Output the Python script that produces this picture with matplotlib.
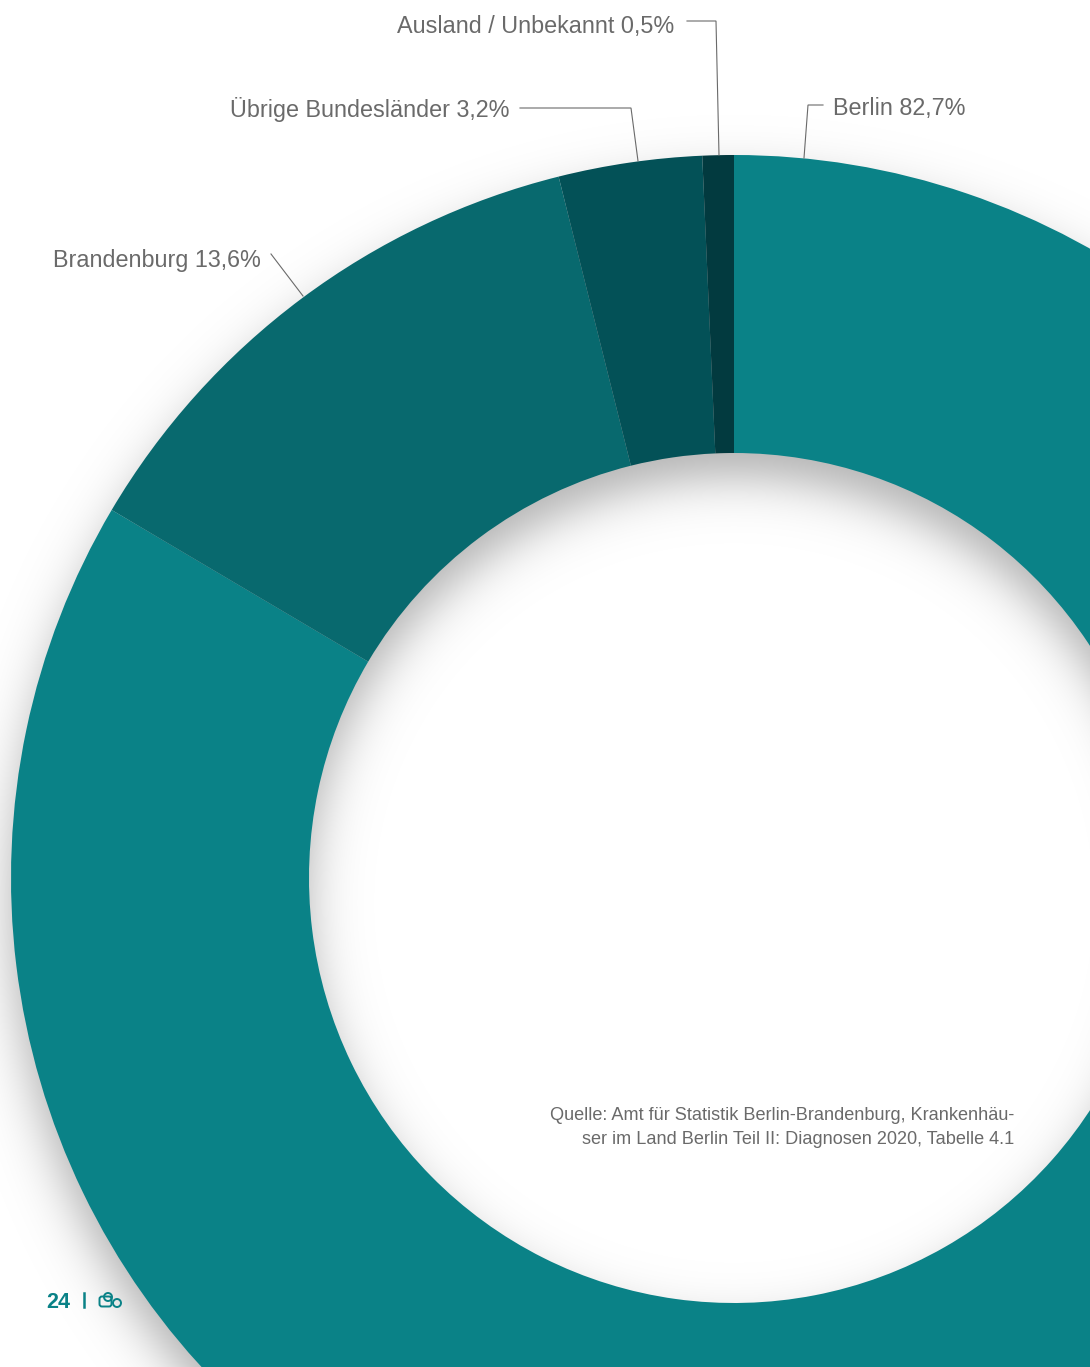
# donut chart: where the hospital patients come from
import numpy as np
import matplotlib
matplotlib.use("Agg")
import matplotlib.pyplot as plt
from matplotlib.patches import Circle, FancyBboxPatch

W, H = 1090, 1367

# shares as printed in the labels
regions = ["Berlin", "Brandenburg", "Übrige Bundesländer", "Ausland / Unbekannt"]
printed = ["82,7%", "13,6%", "3,2%", "0,5%"]
# shares as the wedges are actually drawn in the picture (they differ a bit from the labels)
drawn_shares = [83.5, 12.6, 3.2, 0.7]
colors = ["#0a8287", "#08696e", "#035157", "#023a3f"]

cx, cy = 734, 878
r_outer, r_inner = 723, 425

# leader lines, label end first
leaders = [
    [(823, 105), (808, 105), (804, 158)],
    [(271, 254), (303, 296)],
    [(520, 108), (631, 108), (638, 161)],
    [(687, 21), (716, 21), (719, 155)],
]
label_pos = [(833, 108, "left"), (261, 260, "right"), (509, 110, "right"), (674, 26, "right")]

plt.rcParams["font.family"] = ["Liberation Sans", "DejaVu Sans"]
grey = "#6a6a6a"
teal = "#0a8287"

fig = plt.figure(figsize=(W / 100, H / 100), dpi=100)
ax = fig.add_axes([0, 0, 1, 1])

# soft shadow of the ring, shifted down
yy, xx = np.mgrid[0:H, 0:W] + 0.5
rr = np.hypot(xx - cx, yy - (cy + 25))
sigma = 15.0
cover = 1 / (1 + np.exp((rr - r_outer) / sigma)) * 1 / (1 + np.exp((r_inner - rr) / sigma))
shadow = np.zeros((H, W, 4))
shadow[..., 3] = 0.31 * cover
ax.imshow(shadow, extent=(0, W, H, 0), zorder=1, interpolation="nearest")

# y axis runs downwards so ccw here is clockwise on the page
ax.pie(drawn_shares, colors=colors, startangle=-90, counterclock=True,
       radius=r_outer, center=(cx, cy),
       wedgeprops=dict(width=r_outer - r_inner, linewidth=0, zorder=2))

for line in leaders:
    xs, ys = zip(*line)
    ax.plot(xs, ys, color=grey, lw=0.8, zorder=3, solid_joinstyle="miter")

for name, val, (x, y, ha) in zip(regions, printed, label_pos):
    ax.text(x, y, name + " " + val, ha=ha, va="center", fontsize=16.8, color=grey, zorder=4)

ax.text(1014, 1116, "Quelle: Amt für Statistik Berlin-Brandenburg, Krankenhäu-",
        ha="right", va="center", fontsize=13.03, color=grey, zorder=4)
ax.text(1014, 1140, "ser im Land Berlin Teil II: Diagnosen 2020, Tabelle 4.1",
        ha="right", va="center", fontsize=13.03, color=grey, zorder=4)

# page number and little logo
ax.text(46, 1302, "24", ha="left", va="center", fontsize=15.5, fontweight="bold", color=teal, zorder=5)
ax.plot([84, 84], [1293, 1307], color=teal, lw=1.8, zorder=5)
ax.add_patch(FancyBboxPatch((99.5, 1296.5), 12, 10, boxstyle="round,pad=0,rounding_size=2.5",
                            fill=False, ec=teal, lw=1.4, zorder=5))
ax.add_patch(Circle((108, 1297), 4, fill=False, ec=teal, lw=1.4, zorder=5))
ax.add_patch(Circle((117, 1303), 4, fill=False, ec=teal, lw=1.4, zorder=5))

ax.set_xlim(0, W)
ax.set_ylim(H, 0)
ax.axis("off")

fig.savefig("out.png", dpi=100, facecolor="white")
